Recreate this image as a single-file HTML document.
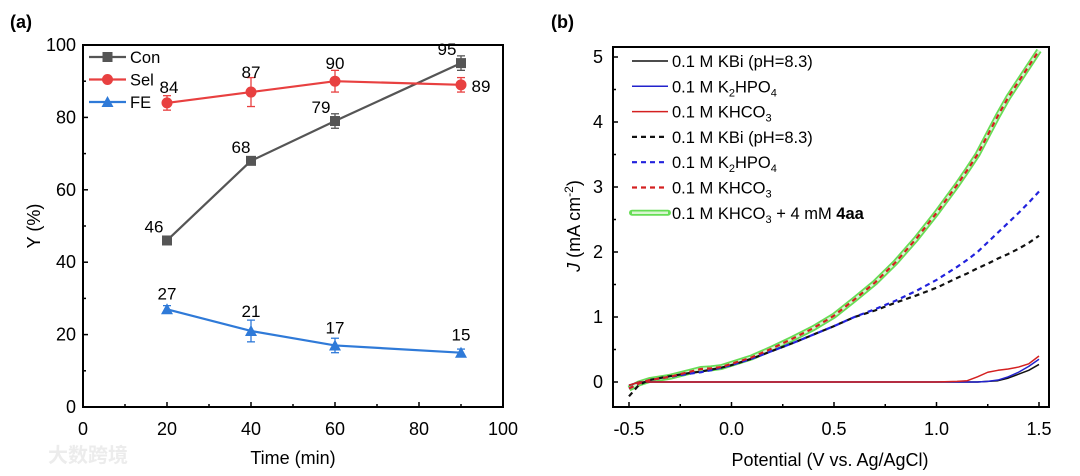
<!DOCTYPE html>
<html><head><meta charset="utf-8">
<style>
body{margin:0;background:#fff;}
svg{display:block;font-family:"Liberation Sans","Noto Sans CJK SC",sans-serif;}
</style></head>
<body>
<svg id="fig" width="1080" height="476" viewBox="0 0 1080 476">
<text x="10" y="28" font-size="18" font-weight="bold">(a)</text>
<text x="551" y="28" font-size="18" font-weight="bold">(b)</text>
<text x="48" y="462" font-size="20" fill="#ececec" font-weight="bold">大数跨境</text>
<g id="ga"></g>
<g id="gb"></g>
</svg>
<script>
// ---- Panel (a) data ----
const aTimes=[20,40,60,90];
const aCon=[46,68,79,95];
const aConErr=[0.8,0.8,2,2];
const aSel=[84,87,90,89];
const aSelErr=[2,4,3,2];
const aFE=[27,21,17,15];
const aFEErr=[1,3,2,1];
const aXTicks=[0,20,40,60,80,100];
const aYTicks=[0,20,40,60,80,100];
// ---- Panel (b) data ----
const bX=[-0.5,-0.45,-0.4,-0.3,-0.2,-0.15,-0.1,-0.05,0,0.1,0.2,0.3,0.4,0.5,0.6,0.7,0.8,0.9,1.0,1.1,1.15,1.2,1.25,1.3,1.35,1.4,1.45,1.5];
const bKHCO3Sub=[-0.1,-0.02,0.03,0.08,0.16,0.2,0.21,0.23,0.28,0.38,0.52,0.67,0.83,1.02,1.27,1.53,1.84,2.2,2.6,3.03,3.26,3.5,3.8,4.1,4.38,4.62,4.86,5.1];
const bK2HPO4Sub=[-0.1,-0.02,0.03,0.08,0.13,0.15,0.18,0.22,0.26,0.36,0.48,0.6,0.73,0.86,1.0,1.12,1.25,1.4,1.57,1.77,1.88,2.0,2.15,2.3,2.45,2.6,2.76,2.93];
const bKBiSub=[-0.22,-0.04,0.03,0.09,0.14,0.16,0.19,0.22,0.26,0.36,0.48,0.6,0.73,0.86,1.0,1.1,1.22,1.33,1.45,1.6,1.67,1.75,1.82,1.9,1.97,2.05,2.14,2.25];
const bKHCO3=[-0.05,0,0,0,0,0,0,0,0,0,0,0,0,0,0,0,0,0,0,0.01,0.02,0.08,0.15,0.18,0.2,0.23,0.28,0.4];
const bK2HPO4=[-0.05,0,0,0,0,0,0,0,0,0,0,0,0,0,0,0,0,0,0,0,0,0,0.01,0.03,0.08,0.15,0.24,0.35];
const bKBi=[-0.05,0,0,0,0,0,0,0,0,0,0,0,0,0,0,0,0,0,0,0,0,0,0.01,0.02,0.06,0.12,0.18,0.27];
const bXTicks=[-0.5,0,0.5,1,1.5];
const bXTickLabels=["-0.5","0.0","0.5","1.0","1.5"];
const bYTicks=[0,1,2,3,4,5];
// legend parts: [text, subscript?]
const bLegend=[
 [["0.1 M KBi (pH=8.3)",0]],
 [["0.1 M K",0],["2",1],["HPO",0],["4",1]],
 [["0.1 M KHCO",0],["3",1]],
 [["0.1 M KBi (pH=8.3)",0]],
 [["0.1 M K",0],["2",1],["HPO",0],["4",1]],
 [["0.1 M KHCO",0],["3",1]],
 [["0.1 M KHCO",0],["3",1],[" + 4 mM ",0],["4aa",2]]
];

const NS="http://www.w3.org/2000/svg";
function mk(p,t,a,txt){const e=document.createElementNS(NS,t);for(const k in a)e.setAttribute(k,a[k]);if(txt!==undefined)e.textContent=txt;p.appendChild(e);return e;}

// ---- Panel A ----
const ga=document.getElementById('ga');
const AL=83,AR=503,AT=45,AB=407;
const ax=v=>AL+(v-0)/100*(AR-AL);
const ay=v=>AB-(v-0)/100*(AB-AT);
let fr=mk(ga,'rect',{x:AL,y:AT,width:AR-AL,height:AB-AT,fill:'none',stroke:'#000','stroke-width':2});

aXTicks.forEach((t,i)=>{
  mk(ga,'line',{x1:ax(t),x2:ax(t),y1:AB,y2:AB-5,stroke:'#000','stroke-width':1.5});
  if(i<aXTicks.length-1)mk(ga,'line',{x1:ax(t+10),x2:ax(t+10),y1:AB,y2:AB-3,stroke:'#000','stroke-width':1.5});
  const l=mk(ga,'text',{x:ax(t),y:AB+28,'font-size':18,'text-anchor':'middle'},String(t));
  
});
aYTicks.forEach((t,i)=>{
  mk(ga,'line',{x1:AL,x2:AL+5,y1:ay(t),y2:ay(t),stroke:'#000','stroke-width':1.5});
  if(i<aYTicks.length-1)mk(ga,'line',{x1:AL,x2:AL+3,y1:ay(t+10),y2:ay(t+10),stroke:'#000','stroke-width':1.5});
  const l=mk(ga,'text',{x:AL-7,y:ay(t)+6,'font-size':18,'text-anchor':'end'},String(t));
  
});
let xt=mk(ga,'text',{x:293,y:464,'font-size':18,'text-anchor':'middle'},'Time (min)');

let yt=mk(ga,'text',{x:0,y:0,'font-size':18,'text-anchor':'middle',transform:'translate(40,226) rotate(-90)'},'Y (%)');


function marker(g,type,x,y,c){
  if(type==='sq')return mk(g,'rect',{x:x-5,y:y-5,width:10,height:10,fill:c});
  if(type==='ci')return mk(g,'circle',{cx:x,cy:y,r:5.5,fill:c});
  return mk(g,'polygon',{points:`${x},${y-6} ${x-6},${y+5} ${x+6},${y+5}`,fill:c});
}
const aSeries=[
 {name:'Con',vals:aCon,err:aConErr,c:'#555555',m:'sq',lab:[[-13,-8],[-10,-8],[-14,-8],[-14,-8]]},
 {name:'Sel',vals:aSel,err:aSelErr,c:'#e84040',m:'ci',lab:[[2,-10],[0,-14],[0,-12],[20,7]]},
 {name:'FE',vals:aFE,err:aFEErr,c:'#2f7ad8',m:'tr',lab:[[0,-10],[0,-14],[0,-12],[0,-12]]}
];
aSeries.forEach((s,si)=>{
  const g=mk(ga,'g',{});
  
  
  const pts=aTimes.map((t,i)=>ax(t)+','+ay(s.vals[i])).join(' ');
  mk(g,'polyline',{points:pts,fill:'none',stroke:s.c,'stroke-width':2.2});
  aTimes.forEach((t,i)=>{
    const x=ax(t),y1=ay(s.vals[i]+s.err[i]),y2=ay(s.vals[i]-s.err[i]);
    mk(g,'line',{x1:x,x2:x,y1:y1,y2:y2,stroke:s.c,'stroke-width':1.3});
    mk(g,'line',{x1:x-4,x2:x+4,y1:y1,y2:y1,stroke:s.c,'stroke-width':1.3});
    mk(g,'line',{x1:x-4,x2:x+4,y1:y2,y2:y2,stroke:s.c,'stroke-width':1.3});
    const m=marker(g,s.m,x,ay(s.vals[i]),s.c);
    
    
    const l=mk(g,'text',{x:x+s.lab[i][0],y:ay(s.vals[i])+s.lab[i][1],'font-size':17,'text-anchor':'middle'},String(s.vals[i]));
    
    
  });
  const ly=57+si*22.5;
  const lg=mk(ga,'g',{});
  
  
  mk(lg,'line',{x1:89,x2:126,y1:ly,y2:ly,stroke:s.c,'stroke-width':2.2});
  marker(lg,s.m,107.5,ly,s.c);
  mk(lg,'text',{x:130,y:ly+6,'font-size':16.5},s.name);
});

// ---- Panel B ----
const gb=document.getElementById('gb');
const BL=613,BR=1049,BT=47,BB=407;
const bx=v=>629+(v+0.5)/2*(1039-629);
const by=v=>382-v*65;
let frb=mk(gb,'rect',{x:BL,y:BT,width:BR-BL,height:BB-BT,fill:'none',stroke:'#000','stroke-width':2});

bXTicks.forEach((t,i)=>{
  mk(gb,'line',{x1:bx(t),x2:bx(t),y1:BB,y2:BB-5,stroke:'#000','stroke-width':1.5});
  if(i<bXTicks.length-1)mk(gb,'line',{x1:bx(t+0.25),x2:bx(t+0.25),y1:BB,y2:BB-3,stroke:'#000','stroke-width':1.5});
  const l=mk(gb,'text',{x:bx(t),y:BB+28,'font-size':18,'text-anchor':'middle'},bXTickLabels[i]);
  
});
bYTicks.forEach((t,i)=>{
  mk(gb,'line',{x1:BL,x2:BL+5,y1:by(t),y2:by(t),stroke:'#000','stroke-width':1.5});
  if(i<bYTicks.length-1)mk(gb,'line',{x1:BL,x2:BL+3,y1:by(t+0.5),y2:by(t+0.5),stroke:'#000','stroke-width':1.5});
  const l=mk(gb,'text',{x:BL-10,y:by(t)+6,'font-size':18,'text-anchor':'end'},String(t));
  
});
let xtb=mk(gb,'text',{x:830,y:466,'font-size':18,'text-anchor':'middle'},'Potential (V vs. Ag/AgCl)');

let ytb=mk(gb,'text',{x:0,y:0,'font-size':18,'text-anchor':'middle',transform:'translate(580,226) rotate(-90)'});

mk(ytb,'tspan',{'font-style':'italic'},'J');
mk(ytb,'tspan',{},' (mA cm');
mk(ytb,'tspan',{'font-size':12,dy:-7},'-2');
mk(ytb,'tspan',{dy:7},')');

const bSeries=[
 {vals:bKHCO3Sub,c:'#66dd55',w:6,dash:null,name:'curve-khco3-4aa',halo:true},
 {vals:bKBi,c:'#111',w:1.5,dash:null,name:'curve-kbi-solid'},
 {vals:bK2HPO4,c:'#2222cc',w:1.5,dash:null,name:'curve-k2hpo4-solid'},
 {vals:bKHCO3,c:'#d42020',w:1.5,dash:null,name:'curve-khco3-solid'},
 {vals:bKBiSub,c:'#111',w:2.2,dash:'5 4',name:'curve-kbi-dashed'},
 {vals:bK2HPO4Sub,c:'#2222dd',w:2.2,dash:'5 4',name:'curve-k2hpo4-dashed'},
 {vals:bKHCO3Sub,c:'#d42020',w:2.2,dash:'5 4',name:'curve-khco3-dashed'}
];
bSeries.forEach(s=>{
  const pts=bX.map((x,i)=>bx(x)+','+by(s.vals[i])).join(' ');
  const g=mk(gb,'g',{});
  
  
  if(s.halo){
    mk(g,'polyline',{points:pts,fill:'none',stroke:'#66dd55','stroke-width':6,'stroke-linejoin':'round'});
    mk(g,'polyline',{points:pts,fill:'none',stroke:'#d8f5d0','stroke-width':2.5,'stroke-linejoin':'round'});
  } else {
    const a={points:pts,fill:'none',stroke:s.c,'stroke-width':s.w,'stroke-linejoin':'round'};
    if(s.dash)a['stroke-dasharray']=s.dash;
    mk(g,'polyline',a);
  }
});
const legStyles=[
 {c:'#111',d:null},{c:'#2222cc',d:null},{c:'#d42020',d:null},
 {c:'#111',d:'5 4'},{c:'#2222dd',d:'5 4'},{c:'#d42020',d:'5 4'},{c:'green',d:null}
];
bLegend.forEach((parts,i)=>{
  const ly=61+i*25.3;
  const lg=mk(gb,'g',{});
  
  
  const st=legStyles[i];
  if(st.c==='green'){
    mk(lg,'line',{x1:632,x2:668,y1:ly,y2:ly,stroke:'#66dd55','stroke-width':6,'stroke-linecap':'round'});
    mk(lg,'line',{x1:632,x2:668,y1:ly,y2:ly,stroke:'#d8f5d0','stroke-width':2.5});
  } else {
    const a={x1:632,x2:668,y1:ly,y2:ly,stroke:st.c,'stroke-width':st.d?2.2:1.5};
    if(st.d)a['stroke-dasharray']=st.d;
    mk(lg,'line',a);
  }
  const tx=mk(lg,'text',{x:672,y:ly+6,'font-size':16.5});
  let sub=false;
  parts.forEach(p=>{
    if(p[1]===1){mk(tx,'tspan',{'font-size':11,dy:4},p[0]);sub=true;}
    else if(p[1]===2){mk(tx,'tspan',{'font-weight':'bold',dy:sub?-4:0},p[0]);sub=false;}
    else {mk(tx,'tspan',{dy:sub?-4:0},p[0]);sub=false;}
  });
});
</script>
</body></html>
